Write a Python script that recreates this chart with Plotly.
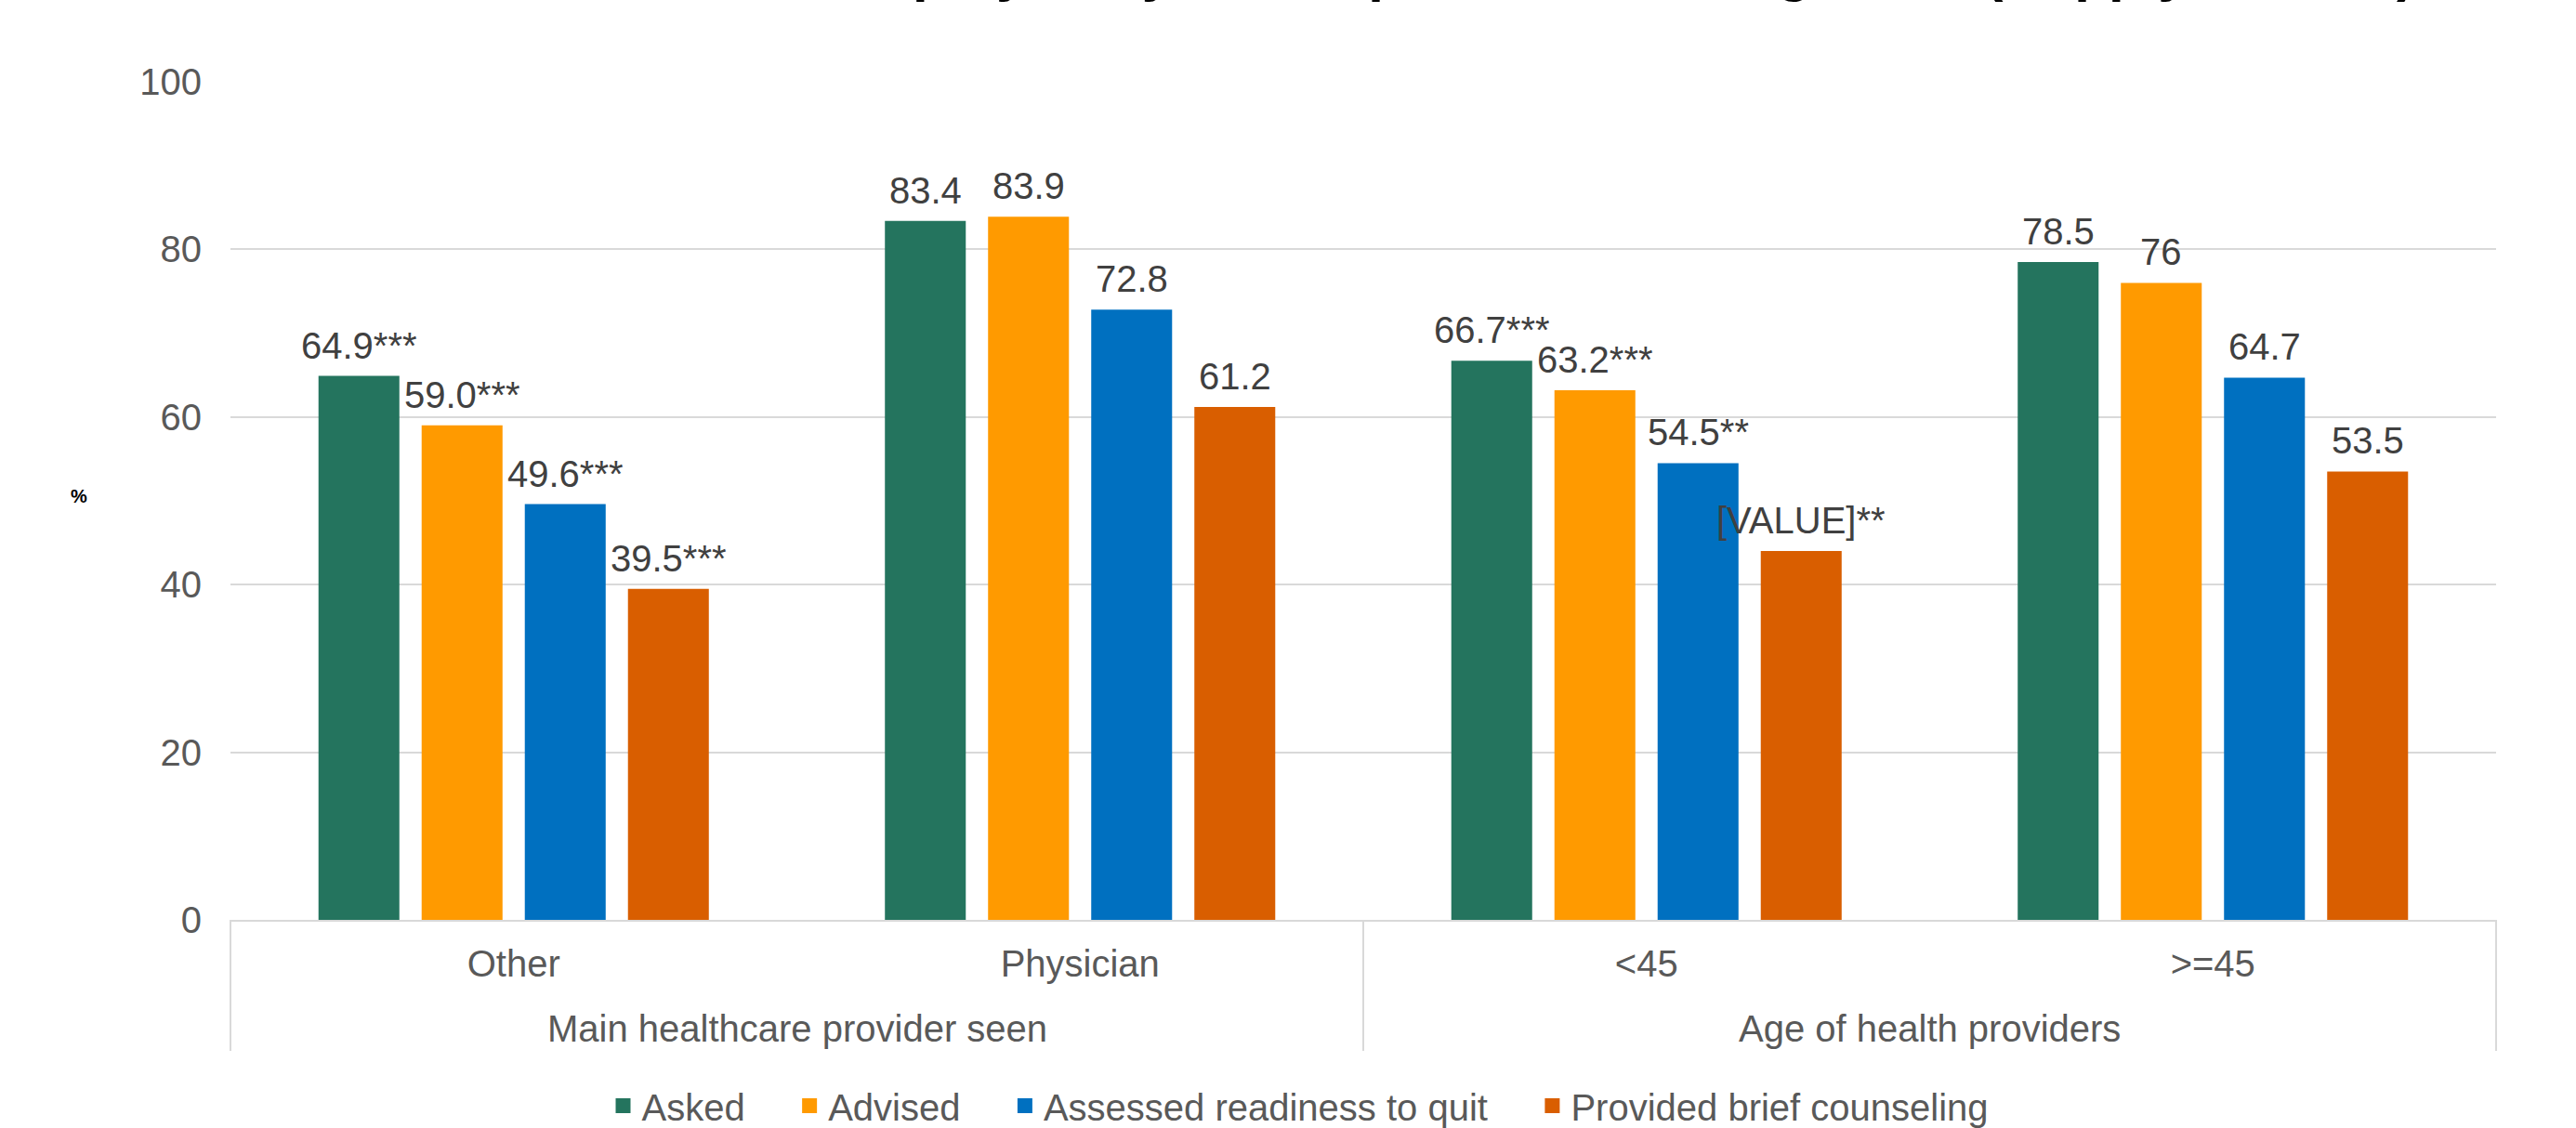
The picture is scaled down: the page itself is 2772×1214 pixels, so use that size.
import plotly.graph_objects as go

# Category hierarchy on the x axis
group_names = ["Main healthcare provider seen", "Age of health providers"]
categories = ["Other", "Physician", "<45", ">=45"]

# Series values (%)
series_names = ["Asked", "Advised", "Assessed readiness to quit", "Provided brief counseling"]
asked = [64.9, 83.4, 66.7, 78.5]
advised = [59.0, 83.9, 63.2, 76.0]
assessed = [49.6, 72.8, 54.5, 64.7]
counseling = [39.5, 61.2, 44.0, 53.5]

# Data labels shown above the bars
asked_labels = ["64.9***", "83.4", "66.7***", "78.5"]
advised_labels = ["59.0***", "83.9", "63.2***", "76"]
assessed_labels = ["49.6***", "72.8", "54.5**", "64.7"]
counseling_labels = ["39.5***", "61.2", "[VALUE]**", "53.5"]

y_ticks = [0, 20, 40, 60, 80, 100]

colors = ["#24745E", "#FF9A00", "#0070C0", "#D95E00"]
FONT = "Arial, 'Liberation Sans', sans-serif"
GRID = "#D9D9D9"
BARGAP = 0.2715

values = [asked, advised, assessed, counseling]
labels = [asked_labels, advised_labels, assessed_labels, counseling_labels]

fig = go.Figure()
for name, vals, col in zip(series_names, values, colors):
    fig.add_trace(go.Bar(
        x=categories, y=vals, name=name,
        marker=dict(color=col, line=dict(width=0)),
        showlegend=False,
    ))

# Value labels centred over each bar of a group
n_series = len(series_names)
slot = (1 - BARGAP) / n_series
for k, (vals, labs) in enumerate(zip(values, labels)):
    for i, (v, lab) in enumerate(zip(vals, labs)):
        fig.add_annotation(
            x=i + (k - (n_series - 1) / 2) * slot, y=v, xref="x", yref="y",
            text=lab, showarrow=False, xanchor="center", yanchor="bottom",
            yshift=9, font=dict(size=40, color="#404040", family=FONT),
        )

# Legend entries with larger square swatches (padded names widen the spacing)
pad = "\u00a0" * 4
for i, (name, col) in enumerate(zip(series_names, colors)):
    fig.add_trace(go.Scatter(
        x=categories, y=[None] * len(categories),
        name=name + (pad if i < n_series - 1 else ""),
        mode="markers", marker=dict(symbol="square", size=16, color=col),
        showlegend=True, hoverinfo="skip",
    ))

# Group dividers below the category axis
DIV_DEPTH = -0.1563
for xp in [0.0, 0.5, 1.0]:
    fig.add_shape(type="line", xref="paper", yref="paper",
                  x0=xp, x1=xp, y0=0, y1=DIV_DEPTH,
                  line=dict(color=GRID, width=2))

# Group labels
for xp, g in zip([0.25, 0.75], group_names):
    fig.add_annotation(text=g, xref="paper", yref="paper", x=xp, y=-0.1297,
                       showarrow=False, xanchor="center", yanchor="middle",
                       font=dict(size=40, color="#595959", family=FONT))

# Axis title
fig.add_annotation(
    text="<b>%</b>", xref="paper", yref="paper", x=-0.0669, y=0.5055,
    showarrow=False, font=dict(size=20, color="#000000", family=FONT),
    xanchor="center", yanchor="middle",
)

# Chart title, set high at the top edge
fig.add_annotation(
    text="<b>Cessation services employed by health providers during visits (Supply side, %)</b>",
    xref="paper", yref="paper", x=0.5, y=1.0920, xanchor="center", yanchor="bottom",
    showarrow=False, font=dict(size=60, color="#000000", family=FONT),
)

fig.update_layout(
    width=2772, height=1214,
    margin=dict(l=248, r=86, t=88, b=224, autoexpand=False),
    paper_bgcolor="white", plot_bgcolor="white",
    font=dict(family=FONT, size=40, color="#595959"),
    barmode="group", bargap=BARGAP, bargroupgap=0.216,
    legend=dict(
        orientation="h", x=0.4717, xanchor="center", y=-0.2217, yanchor="middle",
        font=dict(size=40, color="#595959", family=FONT),
        bgcolor="rgba(0,0,0,0)", traceorder="normal",
    ),
    xaxis=dict(
        type="category", showgrid=False, showline=True,
        linecolor=GRID, linewidth=2, ticks="",
        ticklabelstandoff=11,
        tickfont=dict(size=40, color="#595959", family=FONT),
    ),
    yaxis=dict(
        range=[0, 100], tickvals=y_ticks, showgrid=True, gridcolor=GRID,
        gridwidth=2, zeroline=False, showline=False, ticks="",
        ticklabelstandoff=30,
        tickfont=dict(size=40, color="#595959", family=FONT),
    ),
)

fig.write_html("out.html")
